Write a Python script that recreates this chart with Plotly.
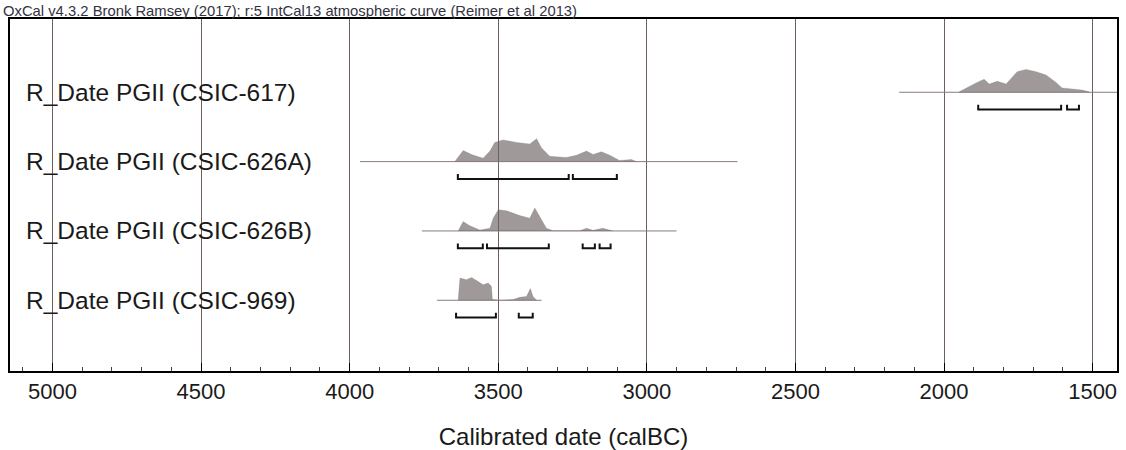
import plotly.graph_objects as go

# Sample names (top to bottom)
samples = ["CSIC-617", "CSIC-626A", "CSIC-626B", "CSIC-969"]
row_pos = [4, 3, 2, 1]

# Calibrated probability distributions (calBC, relative probability)
years_617 = [1949, 1889, 1865, 1848, 1821, 1791, 1774, 1754, 1724, 1690, 1657, 1623, 1603, 1569, 1536, 1512]
prob_617 = [0.02, 0.43, 0.57, 0.36, 0.48, 0.36, 0.60, 0.90, 1.00, 0.90, 0.76, 0.43, 0.19, 0.14, 0.10, 0.02]

years_626a = [3646, 3618, 3590, 3551, 3528, 3512, 3484, 3439, 3394, 3371, 3355, 3327, 3271, 3237,
              3203, 3181, 3153, 3125, 3092, 3052, 3035]
prob_626a = [0.00, 0.49, 0.31, 0.15, 0.46, 0.84, 0.95, 0.84, 0.77, 1.00, 0.61, 0.23, 0.18, 0.28,
             0.46, 0.31, 0.43, 0.28, 0.05, 0.09, 0.00]

years_626b = [3635, 3618, 3596, 3562, 3528, 3517, 3500, 3472, 3428, 3394, 3377, 3360, 3338, 3316,
              3226, 3203, 3181, 3148, 3114]
prob_626b = [0.00, 0.41, 0.23, 0.04, 0.12, 0.56, 0.93, 0.88, 0.67, 0.56, 1.00, 0.63, 0.12, 0.01,
             0.01, 0.12, 0.03, 0.12, 0.01]

years_969 = [3635, 3629, 3607, 3590, 3573, 3551, 3534, 3523, 3520, 3495, 3450, 3428, 3405, 3392, 3383, 3371]
prob_969 = [0.00, 0.97, 0.90, 1.00, 0.86, 0.68, 0.75, 0.61, 0.04, 0.00, 0.03, 0.13, 0.17, 0.51, 0.17, 0.01]

# Extent of the plotted likelihood line for each sample (calBC)
line_start = [2151, 3965, 3757, 3706]
line_end = [1400, 2695, 2900, 3354]

# Highest posterior density ranges (calBC)
ranges_617 = [(1885, 1606), (1586, 1546)]
ranges_626a = [(3636, 3263), (3249, 3101)]
ranges_626b = [(3636, 3552), (3538, 3330), (3216, 3175), (3159, 3122)]
ranges_969 = [(3642, 3508), (3431, 3384)]

# X axis tick values
tick_vals = [5000, 4500, 4000, 3500, 3000, 2500, 2000, 1500]
tick_text = ["5000", "4500", "4000", "3500", "3000", "2500", "2000", "1500"]

dist_years = [years_617, years_626a, years_626b, years_969]
dist_probs = [prob_617, prob_626a, prob_626b, prob_969]
dist_ranges = [ranges_617, ranges_626a, ranges_626b, ranges_969]

PEAK = 0.33       # height of a distribution peak in row units
BAR_OFF = 0.25    # distance of range bars below the baseline
BAR_TICK = 0.07   # height of range bar end ticks

FONT = "Liberation Sans, Arial"

fig = go.Figure()

for name, base, yrs, prb, rngs, s, e in zip(samples, row_pos, dist_years, dist_probs,
                                            dist_ranges, line_start, line_end):
    # baseline
    fig.add_trace(go.Scatter(x=[s, e], y=[base, base], mode="lines",
                             line=dict(color="#8c7b7b", width=1), hoverinfo="skip"))
    # distribution polygon
    xs = [yrs[0]] + list(yrs) + [yrs[-1]]
    ys = [base] + [base + p * PEAK for p in prb] + [base]
    fig.add_trace(go.Scatter(x=xs, y=ys, mode="lines", fill="toself",
                             fillcolor="rgba(110,100,100,0.66)",
                             line=dict(color="rgba(110,100,100,0.45)", width=0.5),
                             hoverinfo="skip"))
    # range brackets
    by = base - BAR_OFF
    for a, b in rngs:
        fig.add_trace(go.Scatter(x=[a, a, b, b], y=[by + BAR_TICK, by, by, by + BAR_TICK],
                                 mode="lines", line=dict(color="#111111", width=2),
                                 hoverinfo="skip"))
    fig.add_annotation(xref="paper", yref="y", x=0.0154, y=base, xanchor="left",
                       yanchor="middle", showarrow=False, xshift=-3,
                       text=f"R_Date PGII ({name})",
                       font=dict(family=FONT, size=24.5, color="#1a1a1a"))

fig.add_annotation(xref="paper", yref="paper", x=-0.008, y=1.0, xanchor="left",
                   yanchor="bottom", showarrow=False, yshift=-2,
                   text="OxCal v4.3.2 Bronk Ramsey (2017); r:5 IntCal13 atmospheric curve (Reimer et al 2013)",
                   font=dict(family=FONT, size=14.8, color="#333344"))

fig.update_layout(
    width=1126, height=450,
    margin=dict(l=10, r=9, t=19, b=79),
    paper_bgcolor="white", plot_bgcolor="white",
    showlegend=False,
    xaxis=dict(
        range=[5143, 1418], autorange=False, automargin=False,
        tickvals=tick_vals, ticktext=tick_text,
        ticks="inside", ticklen=8, tickcolor="black", tickwidth=1,
        minor=dict(dtick=100, tick0=0, ticks="inside", ticklen=4, tickcolor="#444",
                   showgrid=False),
        showgrid=True, gridcolor="#6e5e5e", gridwidth=1,
        showline=True, linecolor="black", linewidth=2, mirror=True,
        tickfont=dict(family=FONT, size=22, color="#1a1a1a"),
        title=dict(text="Calibrated date (calBC)", standoff=26,
                   font=dict(family=FONT, size=24, color="#1a1a1a")),
        zeroline=False,
    ),
    yaxis=dict(
        range=[-0.02, 5.057], autorange=False, automargin=False,
        showgrid=False, zeroline=False, showticklabels=False, ticks="",
        showline=True, linecolor="black", linewidth=2, mirror=True,
    ),
)

fig.write_html("out.html")
